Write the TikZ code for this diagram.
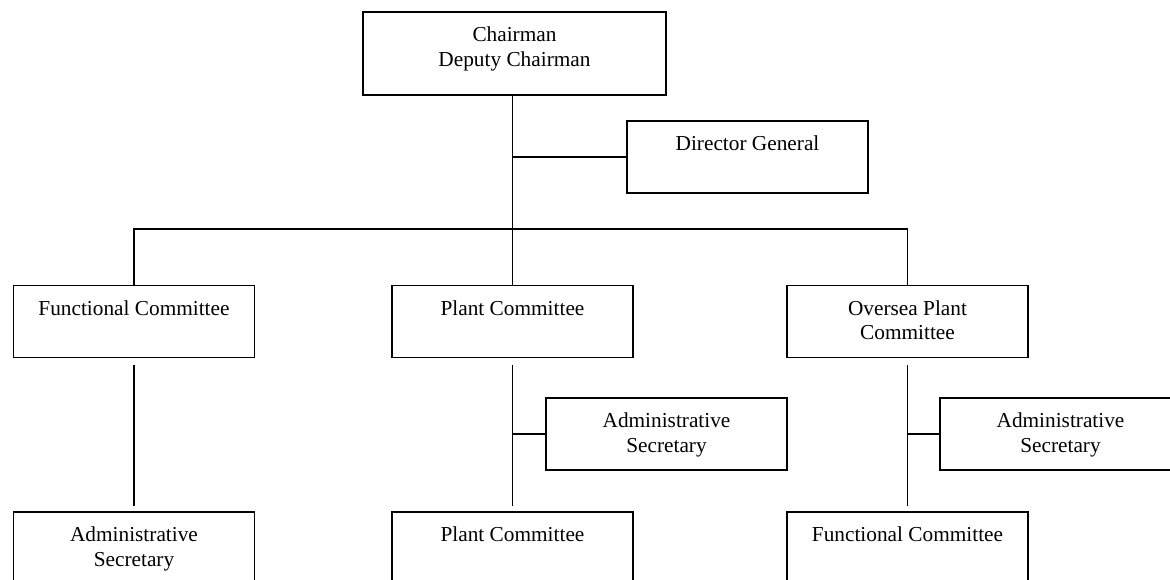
\documentclass[tikz,border=0pt]{standalone}
\usepackage{fontspec}
\setmainfont{Liberation Serif}
\tikzset{unit/.style={draw,line width=0.75pt,minimum width=120.5pt,minimum height=36pt,inner sep=0pt}}
\tikzset{unittext/.style={anchor=north,inner sep=0pt,yshift=-7.7pt,align=center,font=\fontsize{10.65}{12.2}\selectfont}}
\tikzset{link/.style={line width=0.75pt}}
\tikzset{gaplink/.style={link,shorten <=3.5pt,shorten >=2.5pt}}

\begin{document}
\begin{tikzpicture}[x=0.5pt,y=-0.5pt]
\useasboundingbox (0,0) rectangle (1170,579);
\clip (0,0) rectangle (1170,579);
% create the boxes
\node[unit,minimum width=151.5pt,minimum height=41.5pt,label={[unittext]north:Chairman\\Deputy Chairman}] (chair) at (514.5,53.5) {};
\node[unit,label={[unittext]north:Director General}] (dg) at (747.5,157) {};
\node[unit,label={[unittext]north:Functional Committee}] (func) at (134,321.5) {};
\node[unit,label={[unittext]north:Plant Committee}] (plant) at (512.5,321.5) {};
\node[unit,label={[unittext]north:Oversea Plant\\Committee}] (over) at (907.5,321.5) {};
\node[unit,label={[unittext]north:Administrative\\Secretary}] (plantsec) at (666.5,434) {};
\node[unit,label={[unittext]north:Administrative\\Secretary}] (oversec) at (1060.5,434) {};
\node[unit,label={[unittext]north:Administrative\\Secretary}] (funcsec) at (134,548) {};
\node[unit,label={[unittext]north:Plant Committee}] (plantsub) at (512.5,548) {};
\node[unit,label={[unittext]north:Functional Committee}] (overfunc) at (907.5,548) {};
\coordinate (bus) at (512.5,229);
% draw the lines between the boxes
\draw[link] (plant.north |- chair.south) -- (plant.north);
\draw[link] (plant.north |- dg.west) -- (dg.west);
\draw[link] (func.north) |- (bus) -| (over.north);
\draw[gaplink] (func.south) -- (funcsec.north);
\draw[gaplink] (plant.south) -- (plantsub.north);
\draw[gaplink] (over.south) -- (overfunc.north);
\draw[link] (plant.south |- plantsec.west) -- (plantsec.west);
\draw[link] (over.south |- oversec.west) -- (oversec.west);
\end{tikzpicture}
\end{document}
